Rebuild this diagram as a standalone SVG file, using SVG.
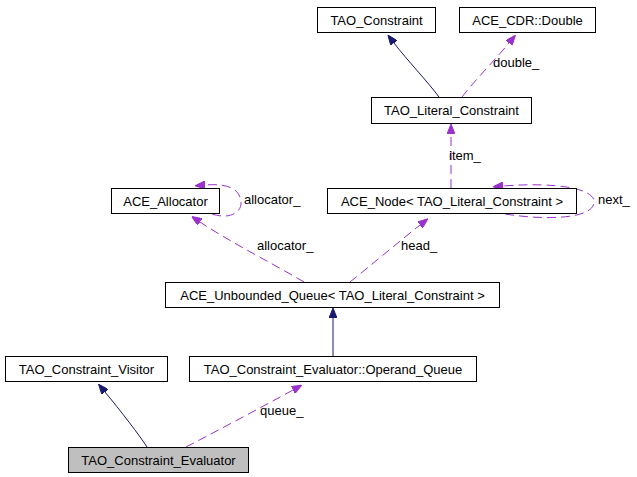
<svg xmlns="http://www.w3.org/2000/svg" width="637" height="477" viewBox="0 0 637 477">
<style>
.box{fill:#fff;stroke:#000;stroke-width:1}
.hl{fill:#bfbfbf}
text{font-family:"Liberation Sans",Arial,sans-serif;font-size:13px;fill:#000}
.n text{text-anchor:middle}
.inh{fill:none;stroke:#191970;stroke-width:1}
.use{fill:none;stroke:#9a32cd;stroke-width:1;stroke-dasharray:9,5}
</style>
<defs>
<marker id="aInh" markerUnits="userSpaceOnUse" markerWidth="10" markerHeight="8" refX="0" refY="4" orient="auto"><path d="M0,0 L10,4 L0,8 z" fill="#191970" stroke="#191970"/></marker>
<marker id="aUse" markerUnits="userSpaceOnUse" markerWidth="10" markerHeight="8" refX="0" refY="4" orient="auto"><path d="M0,0 L10,4 L0,8 z" fill="#9a32cd" stroke="#9a32cd"/></marker>
</defs>
<rect width="637" height="477" fill="#fff"/>
<g id="connectors">
<path class="inh" d="M439,97 C428,82 407,60 394,43" marker-end="url(#aInh)"/>
<path class="use" d="M462,97 C475,80 495,60 509,43" marker-end="url(#aUse)"/>
<text x="493" y="67">double_</text>
<path class="use" d="M451,188 L451,134" marker-end="url(#aUse)"/>
<text x="449" y="160">item_</text>
<path class="use" d="M505,214 C550,221 592,218 594,203 C596,188 555,182 503,186" marker-end="url(#aUse)"/>
<text x="598" y="204">next_</text>
<path class="use" d="M212,214 C230,220 242,212 241,202 C240,190 230,183 205,185" marker-end="url(#aUse)"/>
<text x="244" y="204">allocator_</text>
<path class="use" d="M304,282 C270,262 230,242 200,222" marker-end="url(#aUse)"/>
<text x="257" y="250">allocator_</text>
<path class="use" d="M350,282 C370,266 395,245 420,225" marker-end="url(#aUse)"/>
<text x="401" y="250">head_</text>
<path class="inh" d="M333,356 L333,318" marker-end="url(#aInh)"/>
<path class="inh" d="M147,447 C140,436 120,410 105,392" marker-end="url(#aInh)"/>
<path class="use" d="M186,447 C215,432 260,408 293,390" marker-end="url(#aUse)"/>
<text x="260" y="415">queue_</text>
</g>
<g id="TAO_Constraint" class="n"><rect class="box" x="317.5" y="7.5" width="118" height="25"/><text x="376.5" y="24.5">TAO_Constraint</text></g>
<g id="ACE_CDR_Double" class="n"><rect class="box" x="459.5" y="7.5" width="136" height="25"/><text x="527.5" y="24.5">ACE_CDR::Double</text></g>
<g id="TAO_Literal_Constraint" class="n"><rect class="box" x="371.5" y="97.5" width="160" height="26"/><text x="451.5" y="115">TAO_Literal_Constraint</text></g>
<g id="ACE_Allocator" class="n"><rect class="box" x="111.5" y="188.5" width="108" height="25"/><text x="165.5" y="205.5">ACE_Allocator</text></g>
<g id="ACE_Node" class="n"><rect class="box" x="327.5" y="188.5" width="249" height="25"/><text x="452" y="205.5">ACE_Node&lt; TAO_Literal_Constraint &gt;</text></g>
<g id="ACE_Unbounded_Queue" class="n"><rect class="box" x="165.5" y="282.5" width="334" height="25"/><text x="332.5" y="299.5">ACE_Unbounded_Queue&lt; TAO_Literal_Constraint &gt;</text></g>
<g id="TAO_Constraint_Visitor" class="n"><rect class="box" x="5.5" y="356.5" width="162" height="25"/><text x="86.5" y="373.5">TAO_Constraint_Visitor</text></g>
<g id="Operand_Queue" class="n"><rect class="box" x="189.5" y="356.5" width="287" height="25"/><text x="333" y="373.5">TAO_Constraint_Evaluator::Operand_Queue</text></g>
<g id="TAO_Constraint_Evaluator" class="n"><rect class="box hl" x="68.5" y="447.5" width="180" height="25"/><text x="158.5" y="464.5">TAO_Constraint_Evaluator</text></g>
</svg>
